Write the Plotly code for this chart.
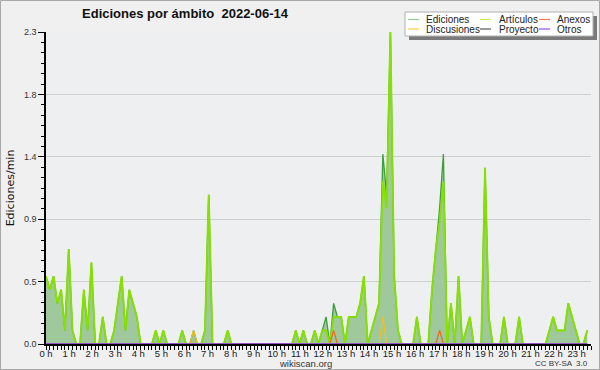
import plotly.graph_objects as go

# 10-minute bins over the day (hours)
hours = [i / 6 for i in range(144)]

ediciones = [
    0.5, 0.4, 0.5, 0.3, 0.4, 0.1, 0.7, 0.1, 0, 0, 0.4, 0.1,       # 0h-2h
    0.6, 0, 0, 0.2, 0, 0, 0.1, 0.3, 0.5, 0.1, 0.4, 0.3,            # 2h-4h
    0.2, 0, 0, 0, 0, 0.1, 0, 0.1, 0, 0, 0, 0,                      # 4h-6h
    0.1, 0, 0, 0.1, 0, 0, 0.1, 1.1, 0, 0, 0, 0,                    # 6h-8h
    0.1, 0, 0, 0, 0, 0, 0, 0, 0, 0, 0, 0,                          # 8h-10h
    0, 0, 0, 0, 0, 0, 0.1, 0, 0.1, 0, 0, 0.1,                      # 10h-12h
    0, 0.1, 0.2, 0, 0.3, 0.2, 0.2, 0, 0.2, 0.2, 0.2, 0.3,          # 12h-14h
    0.5, 0, 0.1, 0.2, 0.3, 1.4, 1.1, 2.3, 0.5, 0.1, 0, 0,          # 14h-16h
    0, 0, 0.2, 0, 0, 0, 0.4, 0.7, 1.0, 1.4, 0, 0.3,                # 16h-18h
    0, 0.5, 0, 0.1, 0.2, 0, 0, 0, 1.3, 0.2, 0, 0,                  # 18h-20h
    0, 0.2, 0, 0, 0, 0.2, 0, 0, 0, 0, 0, 0,                        # 20h-22h
    0, 0.1, 0.2, 0.1, 0.1, 0.1, 0.3, 0.2, 0.1, 0, 0, 0.1,          # 22h-24h
]
ediciones.append(0.1)
ediciones = ediciones[:144]

articulos = list(ediciones)
for idx, v in {39: 0, 74: 0.1, 75: 0, 76: 0.2, 89: 1.2, 90: 1.0, 104: 0.9, 105: 1.2}.items():
    articulos[idx] = v

discusiones = [0.0] * 144
for idx, v in {39: 0.1, 89: 0.2}.items():
    discusiones[idx] = v

anexos = [0.0] * 144
for idx, v in {76: 0.1, 104: 0.1}.items():
    anexos[idx] = v

proyecto = [0.0] * 144
otros = [0.0] * 144

y_tickvals = [0, 0.46, 0.92, 1.38, 1.84, 2.3]
y_ticktext = ["0.0", "0.5", "0.9", "1.4", "1.8", "2.3"]
x_hours = list(range(24))
x_ticktext = [f"{h} h" for h in x_hours]

series = [
    # name, values, plot colour, legend colour, width
    ("Ediciones", ediciones, "#3c9f3c", "#8fd08f", 1.3),
    ("Artículos", articulos, "#86e000", "#c8ee55", 1.9),
    ("Anexos", anexos, "#f06a20", "#f08050", 1.3),
    ("Discusiones", discusiones, "#f2c020", "#f8d040", 1.3),
    ("Proyecto", proyecto, "#555555", "#555555", 1.3),
    ("Otros", otros, "#9a4df0", "#9a4df0", 1.3),
]

fig = go.Figure()
for k, (name, vals, col, lcol, w) in enumerate(series):
    kw = dict(fill="tozeroy", fillcolor="#9fc99d") if k == 0 else {}
    fig.add_trace(go.Scatter(x=hours, y=vals, name=name, mode="lines",
                             line=dict(color=col, width=w), showlegend=False, **kw))

W, H = 600, 370
L, R, T, B = 46, 9, 32, 26
pw, ph = W - L - R, H - T - B


def px(xp):
    return (xp - L) / pw


def py(yp):
    return (H - B - yp) / ph


shapes = [
    # legend shadow + box
    dict(type="rect", xref="paper", yref="paper",
         x0=px(409), x1=px(597), y0=py(40), y1=py(16),
         fillcolor="#7a7a7a", line=dict(width=0), layer="above"),
    dict(type="rect", xref="paper", yref="paper",
         x0=px(405), x1=px(593), y0=py(36), y1=py(12),
         fillcolor="#ffffff", line=dict(color="#b0b0b0", width=1), layer="above"),
    # outer border
    dict(type="rect", xref="paper", yref="paper",
         x0=px(0.5), x1=px(599.5), y0=py(369.5), y1=py(0.5),
         fillcolor="rgba(0,0,0,0)", line=dict(color="#a8a8a8", width=1), layer="below"),
]
annotations = [
    dict(text="wikiscan.org", xref="paper", yref="paper", x=px(305), y=py(363.5),
         xanchor="center", yanchor="middle", showarrow=False,
         font=dict(size=9.5, color="#333", family="Liberation Sans, Arial, sans-serif")),
    dict(text="CC BY-SA  3.0", xref="paper", yref="paper", x=px(590), y=py(363),
         xanchor="right", yanchor="middle", showarrow=False,
         font=dict(size=8, color="#333", family="Liberation Sans, Arial, sans-serif")),
]

# custom compact legend: 3 columns x 2 rows
col_line_x = [408, 480, 539]
col_text_x = [424, 497, 555]
row_y = [19.5, 29]
order = [(0, 0), (0, 1), (0, 2), (1, 0), (1, 1), (1, 2)]  # (row, col) per series
for (name, vals, col, lcol, w), (r, c) in zip(series, order):
    shapes.append(dict(type="line", xref="paper", yref="paper",
                       x0=px(col_line_x[c]), x1=px(col_line_x[c] + 11),
                       y0=py(row_y[r]), y1=py(row_y[r]),
                       line=dict(color=lcol, width=1.2), layer="above"))
    annotations.append(dict(text=name, xref="paper", yref="paper",
                            x=px(col_text_x[c]), y=py(row_y[r]),
                            xanchor="left", yanchor="middle", showarrow=False,
                            font=dict(size=10, color="#222",
                                      family="Liberation Sans, Arial, sans-serif")))

fig.update_layout(
    width=W, height=H,
    margin=dict(l=L, r=R, t=T, b=B, pad=0),
    paper_bgcolor="#f0f0f0",
    plot_bgcolor="#eeeff1",
    font=dict(family="Liberation Sans, Arial, sans-serif", size=10, color="#222"),
    title=dict(
        text="<b>Ediciones por ámbito  2022-06-14</b>",
        x=185 / W, xanchor="center", xref="container",
        y=1 - 13 / H, yanchor="middle", yref="container",
        font=dict(family="Liberation Sans, Arial, sans-serif", size=13, color="#111"),
    ),
    showlegend=False,
    xaxis=dict(
        range=[0, 24], showgrid=False, zeroline=False, automargin=False,
        showline=True, linecolor="black", linewidth=1.5,
        tickvals=[h * 1.016 for h in x_hours], ticktext=x_ticktext, tickangle=0,
        ticks="", tickfont=dict(size=9.5, color="#222"),
        minor=dict(ticks="outside", ticklen=4, tickcolor="black", dtick=1 / 6, tick0=0),
        fixedrange=True,
    ),
    yaxis=dict(
        range=[0, 2.3], showgrid=True, gridcolor="#cfcfcf", gridwidth=1,
        zeroline=False, showline=True, linecolor="black", linewidth=1.5, automargin=False,
        tickvals=y_tickvals, ticktext=y_ticktext,
        ticks="outside", ticklen=6, tickcolor="black",
        tickfont=dict(size=9, color="#333"),
        minor=dict(ticks="outside", ticklen=3, tickcolor="black", dtick=0.46 / 6, tick0=0, showgrid=False),
        title=dict(text="Ediciones/min", font=dict(size=11, family="DejaVu Sans, sans-serif", color="#111"), standoff=7),
    ),
    shapes=shapes,
    annotations=annotations,
)

fig.write_html("out.html", config={"displayModeBar": False},
               post_script="document.body.style.margin='0';document.body.style.padding='0';")
